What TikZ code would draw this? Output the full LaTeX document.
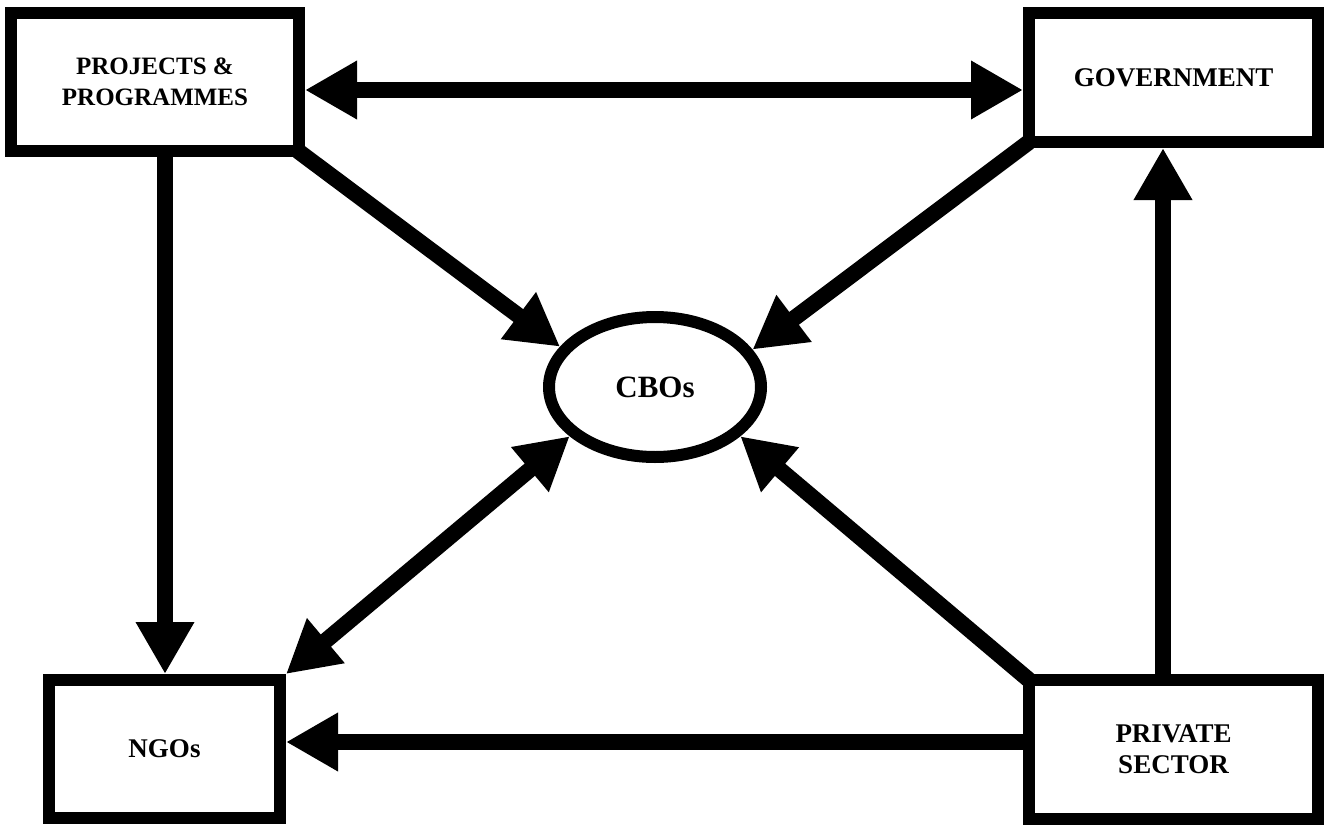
\documentclass[tikz,border=0pt]{standalone}
\usepackage{fontspec}
\setmainfont{Liberation Serif}
\usetikzlibrary{arrows.meta,shapes.geometric,calc}
\pgfdeclarelayer{background}
\pgfsetlayers{background,main}
\tikzset{
  box/.style={draw, line width=12pt, fill=white, align=center, inner sep=0pt, rectangle},
  arr/.style={line width=16pt, -{Triangle[length=52pt,width=55pt]}},
  dbl/.style={line width=16pt, {Triangle[length=52pt,width=55pt]}-{Triangle[length=52pt,width=55pt]}},
}
\begin{document}
\begin{tikzpicture}[x=1pt,y=-1pt]
\useasboundingbox (0,0) rectangle (1324,824);
\node[box, minimum width=288pt, minimum height=138pt, font=\fontsize{25}{31}\selectfont\bfseries] (p) at (155,82) {PROJECTS \&\\PROGRAMMES};
\node[box, minimum width=289pt, minimum height=129pt, font=\fontsize{27}{31}\selectfont\bfseries] (g) at (1173.5,77.5) {GOVERNMENT};
\node[box, minimum width=231pt, minimum height=138pt, font=\fontsize{27}{31}\selectfont\bfseries] (n) at (164.5,749) {NGOs};
\node[box, minimum width=289pt, minimum height=139pt, font=\fontsize{27}{31}\selectfont\bfseries] (s) at (1173.5,749.5) {PRIVATE\\SECTOR};
\node[draw, ellipse, line width=12pt, fill=white, inner sep=0pt, minimum width=212pt, minimum height=140pt, font=\fontsize{31}{35}\selectfont\bfseries] (c) at (655,387) {CBOs};
\coordinate (h1) at (0,90);
\coordinate (h2) at (0,742);
\coordinate (v1) at (165,0);
\coordinate (v2) at (1163,0);
\begin{pgfonlayer}{background}
\draw[dbl] (p.east |- h1) -- (g.west |- h1);
\draw[arr] (p.south -| v1) -- (n.north -| v1);
\draw[arr] (s.north -| v2) -- (g.south -| v2);
\draw[arr] (s.west |- h2) -- (n.east |- h2);
\draw[arr] ([shift={(-7pt,6pt)}]p.south east) -- (c.157);
\draw[arr] ([shift={(6pt,6pt)}]g.south west) -- (c.21);
\draw[arr] ([shift={(6pt,-6pt)}]s.north west) -- (c.330);
\draw[dbl] (n.north east) -- (c.210);
\end{pgfonlayer}
\end{tikzpicture}
\end{document}
